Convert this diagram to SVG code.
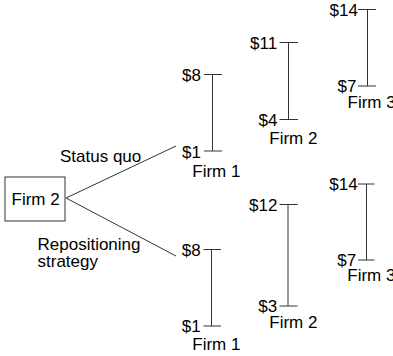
<svg xmlns="http://www.w3.org/2000/svg" width="393" height="356" viewBox="0 0 393 356">
<style>
text{font-family:"Liberation Sans",Arial,sans-serif;font-size:17px;fill:#000}
.ln{stroke:#333;stroke-width:1;fill:none}
.box{stroke:#333;stroke-width:1;fill:#fff}
</style>
<rect width="393" height="356" fill="#fff"/>
<g id="connectors">
<line class="ln" x1="66" y1="198" x2="176" y2="146"/>
<line class="ln" x1="66" y1="198" x2="176" y2="256"/>
<text x="60" y="162">Status quo</text>
<text x="37.5" y="249.5">Repositioning</text>
<text x="37.5" y="267">strategy</text>
</g>
<g id="firm2-root">
<rect class="box" x="5" y="177" width="60" height="44"/>
<text x="11.5" y="205">Firm 2</text>
</g>
<g id="sq-firm1">
<line class="ln" x1="204" y1="74.5" x2="222" y2="74.5"/>
<line class="ln" x1="212.5" y1="74.5" x2="212.5" y2="151"/>
<line class="ln" x1="204" y1="151" x2="222" y2="151"/>
<text x="182" y="81">$8</text>
<text x="182" y="157.5">$1</text>
<text x="192.3" y="176.5">Firm 1</text>
</g>
<g id="sq-firm2">
<line class="ln" x1="279.5" y1="42.5" x2="298" y2="42.5"/>
<line class="ln" x1="288.5" y1="42.5" x2="288.5" y2="119.5"/>
<line class="ln" x1="279.5" y1="119.5" x2="298" y2="119.5"/>
<text x="250" y="49">$11</text>
<text x="258.5" y="125.5">$4</text>
<text x="269.3" y="144">Firm 2</text>
</g>
<g id="sq-firm3">
<line class="ln" x1="358" y1="9.5" x2="376" y2="9.5"/>
<line class="ln" x1="367.5" y1="9.5" x2="367.5" y2="86"/>
<line class="ln" x1="358" y1="86" x2="376" y2="86"/>
<text x="329.5" y="15.5">$14</text>
<text x="337.5" y="92">$7</text>
<text x="347.5" y="107.5">Firm 3</text>
</g>
<g id="rp-firm1">
<line class="ln" x1="203.5" y1="249.5" x2="221" y2="249.5"/>
<line class="ln" x1="211.5" y1="249.5" x2="211.5" y2="326"/>
<line class="ln" x1="203.5" y1="326" x2="221" y2="326"/>
<text x="181.7" y="256">$8</text>
<text x="181.7" y="332">$1</text>
<text x="192.3" y="350">Firm 1</text>
</g>
<g id="rp-firm2">
<line class="ln" x1="279.5" y1="204.5" x2="297.5" y2="204.5"/>
<line class="ln" x1="288" y1="204.5" x2="288" y2="306"/>
<line class="ln" x1="279.5" y1="306" x2="297.5" y2="306"/>
<text x="249" y="211">$12</text>
<text x="258.3" y="311.5">$3</text>
<text x="269.3" y="328">Firm 2</text>
</g>
<g id="rp-firm3">
<line class="ln" x1="358" y1="184" x2="374.5" y2="184"/>
<line class="ln" x1="366.5" y1="184" x2="366.5" y2="260"/>
<line class="ln" x1="358" y1="260" x2="374.5" y2="260"/>
<text x="329.3" y="190">$14</text>
<text x="337.3" y="266">$7</text>
<text x="347.3" y="281">Firm 3</text>
</g>
</svg>
